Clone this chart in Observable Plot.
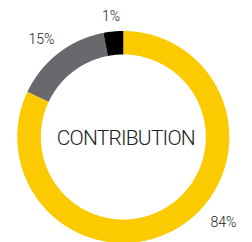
<!DOCTYPE html>
<html>
<head>
<meta charset="utf-8">
<script src="https://cdn.jsdelivr.net/npm/d3@7"></script>
<script src="https://cdn.jsdelivr.net/npm/@observablehq/plot@0.6"></script>
<style>
  html, body { margin: 0; padding: 0; background: #fff; }
  .title-text text { letter-spacing: -0.8px; }
</style>
</head>
<body>
<div id="chart"></div>
<script>
// Data (slice shares as drawn, and their printed labels)
const categories = ["A", "B", "C"];
const shares = [82, 15, 3];
const labels = ["84%", "15%", "1%"];
const centerTitle = "CONTRIBUTION";
const colors = ["#fbca00", "#68686d", "#000000"];

// Geometry (layout, not data)
const R_OUT = 106, R_IN = 82.5;
const labelPos = [
  {angle: 130.5, r: 131},
  {angle: 320, r: 128},
  {angle: 354, r: 122}
];

const total = d3.sum(shares);
let acc = 0;
const ringPts = [];
categories.forEach((c, i) => {
  const a0 = acc / total * 360;
  acc += shares[i];
  const a1 = acc / total * 360;
  const n = Math.max(2, Math.ceil(a1 - a0) + 1);
  for (let k = 0; k <= n; k++) {
    const a = (a0 + (a1 - a0) * k / n) * Math.PI / 180;
    ringPts.push({
      cat: c,
      xo: R_OUT * Math.sin(a), yo: R_OUT * Math.cos(a),
      xi: R_IN * Math.sin(a), yi: R_IN * Math.cos(a)
    });
  }
});

const labelData = labels.map((t, i) => {
  const a = labelPos[i].angle * Math.PI / 180;
  return {text: t, x: labelPos[i].r * Math.sin(a), y: labelPos[i].r * Math.cos(a)};
});

const chart = Plot.plot({
  width: 252,
  height: 242,
  margin: 0,
  x: {domain: [-123.3, 128.7], range: [0, 252], axis: null},
  y: {domain: [-105, 137], range: [242, 0], axis: null},
  color: {domain: categories, range: colors},
  style: {background: "#fff"},
  marks: [
    Plot.area(ringPts, {x1: "xi", y1: "yi", x2: "xo", y2: "yo", z: "cat", fill: "cat", curve: "linear"}),
    Plot.text(labelData, {x: "x", y: "y", text: "text", fontSize: 14, fill: "#222", fontFamily: "Roboto", fontWeight: 300, textAnchor: "middle"}),
    Plot.text([centerTitle], {x: 2, y: -1, text: d => d, fontSize: 21, fill: "#222", fontFamily: "Roboto", fontWeight: 300, textAnchor: "middle", className: "title-text"})
  ]
});
document.getElementById("chart").appendChild(chart);
</script>
</body>
</html>
